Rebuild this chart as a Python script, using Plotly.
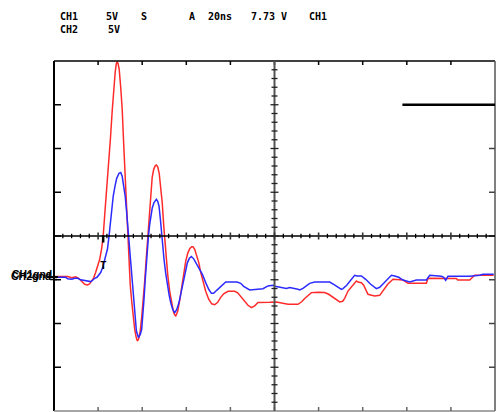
import plotly.graph_objects as go

# ---- data (time in ns, voltage in V relative to screen centre) ----
ch1_t = [0, 3.49, 6.21, 8.03, 9.84, 11.2, 12.56, 13.92, 15.28, 16.19, 17.10, 18.0, 18.91, 19.82,
         20.73, 21.63, 22.31, 22.99, 23.76, 24.58, 25.58, 26.39, 27.07, 27.75, 28.21, 28.57, 29.02,
         29.57, 30.25, 30.93, 31.61, 32.29, 32.83, 33.29, 33.88, 34.56, 35.24, 35.92, 36.6, 37.28,
         37.82, 38.41, 39.09, 39.77, 40.45, 41.13, 41.81, 42.49, 43.17, 43.85, 44.53, 45.21, 45.89,
         46.44, 47.03, 47.71, 48.39, 49.07, 49.75, 50.2, 50.88, 51.56, 52.47, 53.38, 54.28, 55.19,
         56.1, 57.01, 57.91, 58.82, 59.73, 60.64, 61.54, 62.45, 63.04, 63.81, 64.72, 65.62, 66.53,
         67.44, 68.8, 70.16, 71.52, 72.88, 74.24, 75.6, 76.96, 78.91, 81.95, 83.31, 84.67, 86.03,
         87.98, 89.52, 91.02, 92.51, 94.78, 97.82, 100.86, 103.26, 106.12, 110.65, 112.33, 113.69,
         115.05, 116.73, 119.59, 122.76, 124.58, 125.8, 127.75, 129.57, 130.93, 131.84, 133.33,
         135.01, 137.14, 137.86, 139.4, 140.44, 142.39, 144.08, 145.44, 147.71, 149.52, 151.34,
         153.74, 155.87, 158.27, 160.54, 168.88, 169.61, 182.49, 183.08, 188.52, 190.79, 199.4]
ch1_v = [-4.64, -4.66, -4.64, -4.78, -4.66, -4.83, -5.18, -5.52, -5.60, -5.46, -5.12, -4.78, -4.15,
         -3.46, -2.66, -1.41, -0.03, 2.37, 4.80, 7.66, 11.09, 14.28, 16.77, 18.71, 19.62, 19.93,
         19.74, 19.05, 17.0, 14.48, 10.48, 6.71, 3.28, -0.03, -2.89, -5.52, -7.46, -9.29, -10.66,
         -11.58, -12.0, -11.75, -10.89, -9.29, -7.46, -5.18, -2.66, -0.15, 2.59, 5.11, 6.71, 7.62,
         8.02, 8.11, 7.91, 7.17, 5.79, 3.85, 1.22, -0.38, -2.44, -4.38, -6.32, -7.81, -8.78, -9.18,
         -8.61, -7.35, -5.75, -4.26, -2.89, -1.98, -1.46, -1.23, -1.23, -1.52, -2.21, -3.01, -4.15,
         -5.14, -6.32, -7.23, -7.75, -7.86, -7.58, -7.01, -6.61, -6.32, -6.32, -6.49, -6.89, -7.35,
         -7.92, -8.18, -7.98, -7.61, -7.63, -7.58, -7.54, -7.69, -7.81, -7.81, -7.52, -7.15, -6.83,
         -6.47, -6.43, -6.47, -6.66, -6.89, -7.23, -7.54, -7.46, -7.12, -6.29, -5.75, -5.14, -5.26,
         -5.33, -5.63, -6.66, -6.78, -6.86, -6.78, -6.21, -5.52, -4.95, -5.01, -5.03, -5.41, -5.41,
         -4.83, -4.87, -5.03, -5.03, -4.49, -4.49]

ch2_t = [0, 3.49, 5.31, 6.21, 8.03, 9.39, 10.75, 12.11, 13.92, 15.28, 16.64, 17.55, 18.46, 19.5,
         20.27, 21.18, 22.09, 22.68, 23.45, 24.22, 24.94, 25.58, 26.17, 26.85, 27.66, 28.43, 29.48,
         30.25, 30.93, 31.75, 32.29, 32.83, 33.33, 33.74, 34.33, 34.78, 35.46, 36.28, 36.82, 37.37,
         38.28, 39.09, 39.77, 40.32, 40.82, 41.36, 41.9, 42.81, 43.4, 43.85, 44.53, 45.35, 46.44,
         47.03, 47.62, 48.25, 48.84, 49.39, 49.89, 50.66, 51.43, 52.24, 52.92, 53.83, 54.74, 55.65,
         56.69, 57.59, 58.5, 59.5, 60.5, 61.4, 62.31, 63.35, 64.26, 65.76, 67.3, 68.8, 70.16, 71.38,
         72.42, 73.78, 75.6, 77.87, 82.99, 84.67, 86.03, 87.98, 88.75, 94.78, 96.01, 97.05, 99.32,
         100.86, 105.39, 106.89, 110.65, 111.42, 112.92, 115.05, 115.96, 118.23, 125.03, 126.84,
         128.66, 130.34, 131.06, 132.74, 134.55, 136.37, 137.41, 139.4, 141.35, 143.62, 146.21,
         147.71, 149.52, 151.34, 153.02, 154.52, 156.33, 158.27, 161.31, 164.35, 168.88, 170.38,
         175.69, 176.73, 177.64, 178.68, 188.52, 193.06, 194.55, 199.4]
ch2_v = [-4.72, -4.72, -4.72, -4.89, -4.95, -4.83, -4.83, -5.01, -5.12, -5.21, -5.21, -5.06, -4.83,
         -4.72, -4.49, -4.18, -3.58, -3.04, -2.32, -1.52, -0.07, 1.68, 3.05, 4.54, 5.71, 6.59, 7.17,
         7.25, 6.82, 5.71, 4.54, 3.05, 1.45, -0.07, -1.98, -3.43, -5.75, -8.0, -9.52, -10.86,
         -11.61, -11.29, -10.66, -9.06, -7.23, -5.06, -2.66, -0.07, 1.34, 2.29, 3.17, 3.82, 4.19,
         3.97, 3.43, 1.91, -0.07, -1.41, -2.66, -4.26, -5.71, -6.78, -7.61, -8.38, -8.75, -8.43,
         -7.61, -6.43, -5.33, -4.15, -3.04, -2.55, -2.35, -2.61, -3.04, -3.61, -4.38, -5.33, -6.09,
         -6.55, -6.55, -6.21, -5.75, -5.26, -5.26, -5.41, -5.75, -6.01, -6.17, -6.03, -5.81, -5.71,
         -5.63, -5.78, -6.01, -5.90, -6.09, -6.17, -5.98, -5.63, -5.41, -5.26, -5.26, -5.52, -5.86,
         -6.09, -6.01, -5.63, -5.06, -4.49, -4.57, -4.57, -4.95, -5.52, -6.01, -5.86, -5.41, -4.89,
         -4.49, -4.57, -4.72, -5.03, -5.26, -5.03, -5.03, -4.49, -4.61, -4.72, -5.06, -4.61, -4.61,
         -4.49, -4.38, -4.38]

header_row1 = [("CH1", 58), ("5V", 104), ("S", 139), ("A", 187), ("20ns", 206), ("7.73 V", 249), ("CH1", 307)]
header_row2 = [("CH2", 58), ("5V", 106)]

T_RANGE = [0, 200]   # 20 ns/div, 10 div
V_RANGE = [-20, 20]  # 5 V/div, 8 div
TRIG_T = 22.5
LEVEL_V = 15.0
LEVEL_T0 = 158.0

W, H = 496, 412
ML, MR, MT, MB = 54, 1, 61, 1
PW, PH = W - ML - MR, H - MT - MB

def px_x(p):  # paper x from screenshot pixel x
    return (p - ML) / PW

def px_y(p):  # paper y from screenshot pixel y
    return (H - MB - p) / PH

fig = go.Figure()
fig.add_trace(go.Scatter(x=ch1_t, y=ch1_v, mode="lines", line=dict(color="#ff2b2b", width=1.5),
                         hoverinfo="skip", showlegend=False))
fig.add_trace(go.Scatter(x=ch2_t, y=ch2_v, mode="lines", line=dict(color="#2b2bff", width=1.5),
                         hoverinfo="skip", showlegend=False))

shapes = []
ns_per_px = (T_RANGE[1] - T_RANGE[0]) / PW
v_per_px = (V_RANGE[1] - V_RANGE[0]) / PH

# border
shapes.append(dict(type="line", xref="paper", yref="paper", x0=0, x1=0, y0=0, y1=1, line=dict(color="#000", width=2)))
shapes.append(dict(type="line", xref="paper", yref="paper", x0=0, x1=1, y0=1, y1=1, line=dict(color="#000", width=1.5)))
shapes.append(dict(type="line", xref="paper", yref="paper", x0=1, x1=1, y0=0, y1=1, line=dict(color="#555", width=1.5)))
shapes.append(dict(type="line", xref="paper", yref="paper", x0=0, x1=1, y0=0, y1=0, line=dict(color="#888", width=1.5)))
# border ticks
for k in range(1, 10):
    shapes.append(dict(type="line", xref="paper", yref="paper", x0=k / 10, x1=k / 10, y0=1, y1=1 - 4 / PH,
                       line=dict(color="#000", width=1.5)))
    shapes.append(dict(type="line", xref="paper", yref="paper", x0=k / 10, x1=k / 10, y0=0, y1=4 / PH,
                       line=dict(color="#666", width=1.5)))
for j in range(1, 8):
    shapes.append(dict(type="line", xref="paper", yref="paper", x0=0, x1=7 / PW, y0=j / 8, y1=j / 8,
                       line=dict(color="#000", width=1.5)))
    shapes.append(dict(type="line", xref="paper", yref="paper", x0=1, x1=1 - 6 / PW, y0=j / 8, y1=j / 8,
                       line=dict(color="#444", width=1.5)))
# centre cross
shapes.append(dict(type="line", x0=T_RANGE[0], x1=T_RANGE[1], y0=0, y1=0, line=dict(color="#000", width=1.6)))
shapes.append(dict(type="line", x0=100, x1=100, y0=V_RANGE[0], y1=V_RANGE[1], line=dict(color="#555", width=2)))
for k in range(1, 50):
    t = 4 * k
    half = 3.5 if k % 5 == 0 else 2.2
    shapes.append(dict(type="line", x0=t, x1=t, y0=-half * v_per_px, y1=half * v_per_px,
                       line=dict(color="#000" if k % 5 else "#333", width=1.3 if k % 5 else 1.6)))
for j in range(-19, 20):
    half = 4 if j % 5 == 0 else 3
    shapes.append(dict(type="line", x0=100 - half * ns_per_px, x1=100 + half * ns_per_px, y0=j, y1=j,
                       line=dict(color="#222", width=1.3)))
# trigger position marker on axis
shapes.append(dict(type="line", x0=TRIG_T - 0.2, x1=TRIG_T - 0.2, y0=0.1, y1=-0.75, line=dict(color="#000", width=2.5)))
# reference level line
shapes.append(dict(type="line", x0=LEVEL_T0, x1=T_RANGE[1], y0=LEVEL_V, y1=LEVEL_V, line=dict(color="#000", width=2.5)))
# ground markers
shapes.append(dict(type="line", xref="paper", yref="paper", x0=px_x(47), x1=px_x(58), y0=px_y(277), y1=px_y(277),
                   line=dict(color="#000", width=2)))
shapes.append(dict(type="line", xref="paper", yref="paper", x0=px_x(50), x1=px_x(57), y0=px_y(279.5), y1=px_y(279.5),
                   line=dict(color="#000", width=1.5)))

annotations = []
hfont = dict(family="DejaVu Sans Mono", size=10, color="#000")
for txt, px in header_row1:
    annotations.append(dict(text="<b>%s</b>" % txt, xref="paper", yref="paper", x=px_x(px), y=px_y(16),
                            xanchor="left", yanchor="middle", showarrow=False, font=hfont))
for txt, px in header_row2:
    annotations.append(dict(text="<b>%s</b>" % txt, xref="paper", yref="paper", x=px_x(px), y=px_y(29),
                            xanchor="left", yanchor="middle", showarrow=False, font=hfont))
gfont = dict(family="Liberation Sans", size=10.5, color="#000")
annotations.append(dict(text="<b>CH1gnd</b>", xref="paper", yref="paper", x=px_x(10), y=px_y(273.5),
                        xanchor="left", yanchor="middle", showarrow=False, font=gfont))
annotations.append(dict(text="<b>CH2gnd</b>", xref="paper", yref="paper", x=px_x(9), y=px_y(276),
                        xanchor="left", yanchor="middle", showarrow=False, font=gfont))
annotations.append(dict(text="<b>T</b>", x=TRIG_T, y=-3.35, xanchor="center", yanchor="middle",
                        showarrow=False, font=dict(family="DejaVu Sans Mono", size=11, color="#000")))

fig.update_layout(
    width=W, height=H,
    margin=dict(l=ML, r=MR, t=MT, b=MB, pad=0),
    paper_bgcolor="#ffffff", plot_bgcolor="#ffffff",
    xaxis=dict(range=T_RANGE, showgrid=False, zeroline=False, showticklabels=False, ticks="", showline=False, fixedrange=True),
    yaxis=dict(range=V_RANGE, showgrid=False, zeroline=False, showticklabels=False, ticks="", showline=False, fixedrange=True),
    shapes=shapes, annotations=annotations, showlegend=False,
)

fig.write_html("out.html", config={"displayModeBar": False},
               post_script="document.body.style.margin='0px';")
